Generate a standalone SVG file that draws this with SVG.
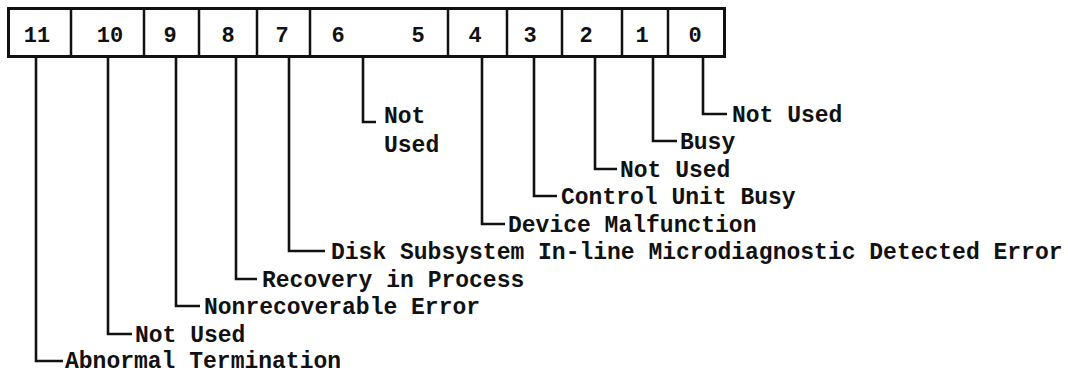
<svg xmlns="http://www.w3.org/2000/svg" width="1068" height="375" viewBox="0 0 1068 375">
  <style>
    .frame { fill: none; stroke: #111; stroke-width: 3; }
    .div { stroke: #111; stroke-width: 2.5; }
    .bit { font-family: "Liberation Mono", "Courier New", monospace; font-weight: bold; font-size: 22px; fill: #111; text-anchor: middle; }
    .lbl { font-family: "Liberation Mono", "Courier New", monospace; font-weight: bold; font-size: 23px; fill: #111; }
    .lead { fill: none; stroke: #111; stroke-width: 2.6; stroke-linejoin: miter; }
  </style>
  <rect width="1068" height="375" fill="#fff"/>

  <!-- status register: bits 11..0 -->
  <g id="register">
    <rect class="frame" x="8.5" y="8.5" width="716" height="48"/>
    <line class="div" x1="71" y1="8" x2="71" y2="57"/>
    <line class="div" x1="144" y1="8" x2="144" y2="57"/>
    <line class="div" x1="199" y1="8" x2="199" y2="57"/>
    <line class="div" x1="257" y1="8" x2="257" y2="57"/>
    <line class="div" x1="310" y1="8" x2="310" y2="57"/>
    <line class="div" x1="448" y1="8" x2="448" y2="57"/>
    <line class="div" x1="507" y1="8" x2="507" y2="57"/>
    <line class="div" x1="562" y1="8" x2="562" y2="57"/>
    <line class="div" x1="622" y1="8" x2="622" y2="57"/>
    <line class="div" x1="668" y1="8" x2="668" y2="57"/>
    <text class="bit" x="37" y="42">11</text>
    <text class="bit" x="110" y="42">10</text>
    <text class="bit" x="170" y="42">9</text>
    <text class="bit" x="228" y="42">8</text>
    <text class="bit" x="282" y="42">7</text>
    <text class="bit" x="338" y="42">6</text>
    <text class="bit" x="418" y="42">5</text>
    <text class="bit" x="475" y="42">4</text>
    <text class="bit" x="530" y="42">3</text>
    <text class="bit" x="586" y="42">2</text>
    <text class="bit" x="642" y="42">1</text>
    <text class="bit" x="695" y="42">0</text>
  </g>

  <!-- leader lines from each bit down to its label -->
  <g id="connectors">
    <path class="lead" d="M703 57 V114 H727"/>
    <path class="lead" d="M653 57 V141 H677"/>
    <path class="lead" d="M595 57 V169 H617"/>
    <path class="lead" d="M534 57 V196 H557"/>
    <path class="lead" d="M482 57 V224 H505"/>
    <path class="lead" d="M363 57 V122 H376"/>
    <path class="lead" d="M289 57 V251 H325"/>
    <path class="lead" d="M236 57 V279 H257"/>
    <path class="lead" d="M176 57 V306 H200"/>
    <path class="lead" d="M108 57 V334 H132"/>
    <path class="lead" d="M36 57 V361 H63"/>
  </g>

  <g id="bit0"><text class="lbl" x="732" y="122">Not Used</text></g>
  <g id="bit1"><text class="lbl" x="680" y="149">Busy</text></g>
  <g id="bit2"><text class="lbl" x="620" y="177">Not Used</text></g>
  <g id="bit3"><text class="lbl" x="561" y="204">Control Unit Busy</text></g>
  <g id="bit4"><text class="lbl" x="508" y="232">Device Malfunction</text></g>
  <g id="bits6-5">
    <text class="lbl" x="384" y="123">Not</text>
    <text class="lbl" x="384" y="152">Used</text>
  </g>
  <g id="bit7"><text class="lbl" x="331" y="259">Disk Subsystem In-line Microdiagnostic Detected Error</text></g>
  <g id="bit8"><text class="lbl" x="262" y="287">Recovery in Process</text></g>
  <g id="bit9"><text class="lbl" x="204" y="314">Nonrecoverable Error</text></g>
  <g id="bit10"><text class="lbl" x="135" y="342">Not Used</text></g>
  <g id="bit11"><text class="lbl" x="65" y="368">Abnormal Termination</text></g>
</svg>
